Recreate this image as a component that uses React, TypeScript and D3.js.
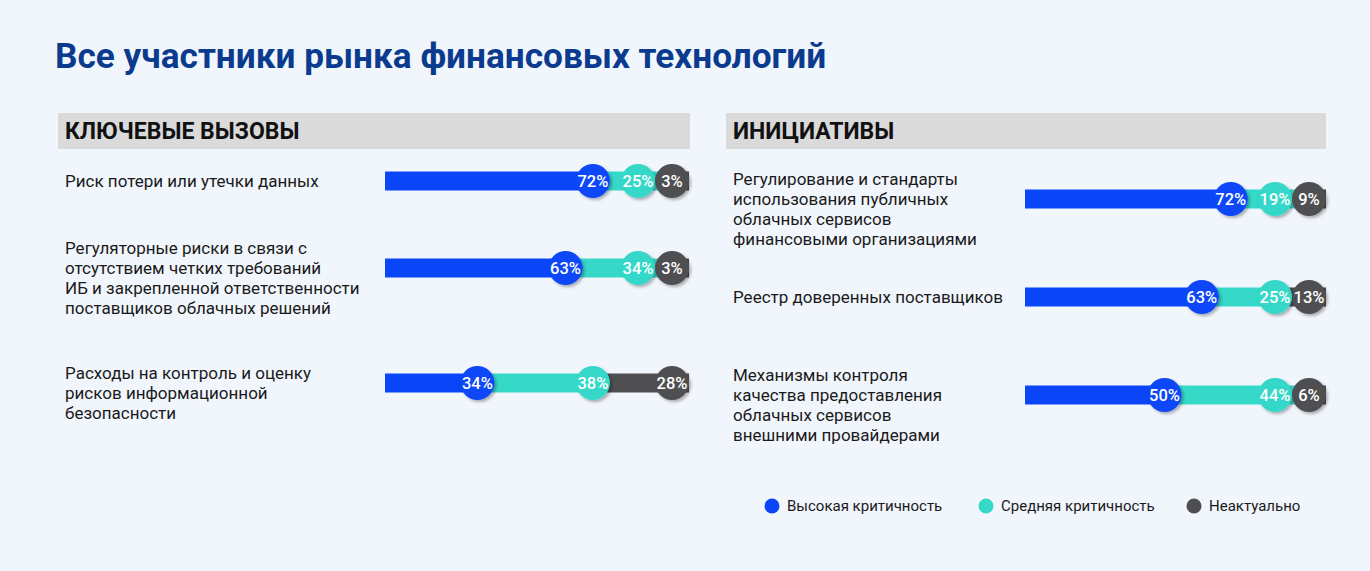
import React, { useEffect, useRef } from "react";
import * as d3 from "d3";

// Left panel: key challenges
const challengeLabels = [
    ["Риск потери или утечки данных"],
    [
        "Регуляторные риски в связи с",
        "отсутствием четких требований",
        "ИБ и закрепленной ответственности",
        "поставщиков облачных решений",
    ],
    ["Расходы на контроль и оценку", "рисков информационной", "безопасности"],
];
const challengeHigh = [72, 63, 34];
const challengeMid = [25, 34, 38];
const challengeNone = [3, 3, 28];

// Right panel: initiatives
const initiativeLabels = [
    [
        "Регулирование и стандарты",
        "использования публичных",
        "облачных сервисов",
        "финансовыми организациями",
    ],
    ["Реестр доверенных поставщиков"],
    [
        "Механизмы контроля",
        "качества предоставления",
        "облачных сервисов",
        "внешними провайдерами",
    ],
];
const initiativeHigh = [72, 63, 50];
const initiativeMid = [19, 25, 44];
const initiativeNone = [9, 13, 6];

const seriesNames = ["Высокая критичность", "Средняя критичность", "Неактуально"];
const seriesColors = ["#0a46f7", "#36d8c8", "#4f4f51"];

const W = 1370;
const H = 571;
const FONT = "Roboto, 'Noto Sans', sans-serif";

interface Panel {
    title: string;
    labels: string[][];
    values: number[][];
    x: number;
    width: number;
    barX: number;
    barW: number;
    rowY: number[];
}

const App: React.FC = () => {
    const svgRef = useRef<SVGSVGElement>(null);

    useEffect(() => {
        if (!svgRef.current) return;
        const svg = d3.select(svgRef.current);
        svg.selectAll("*").remove();

        const defs = svg.append("defs");
        const filter = defs
            .append("filter")
            .attr("id", "shadow")
            .attr("x", "-50%")
            .attr("y", "-50%")
            .attr("width", "200%")
            .attr("height", "200%");
        filter
            .append("feDropShadow")
            .attr("dx", 2)
            .attr("dy", 2)
            .attr("stdDeviation", 1.8)
            .attr("flood-color", "#000")
            .attr("flood-opacity", 0.3);

        svg.append("rect").attr("width", W).attr("height", H).attr("fill", "#f1f6fd");

        svg.append("text")
            .attr("x", 55)
            .attr("y", 68)
            .attr("font-family", FONT)
            .attr("font-size", 35.2)
            .attr("font-weight", 700)
            .attr("fill", "#0b3b8e")
            .text("Все участники рынка финансовых технологий");

        const panels: Panel[] = [
            {
                title: "КЛЮЧЕВЫЕ ВЫЗОВЫ",
                labels: challengeLabels,
                values: challengeHigh.map((v, i) => [v, challengeMid[i], challengeNone[i]]),
                x: 58,
                width: 632,
                barX: 385,
                barW: 304,
                rowY: [181, 268, 383],
            },
            {
                title: "ИНИЦИАТИВЫ",
                labels: initiativeLabels,
                values: initiativeHigh.map((v, i) => [v, initiativeMid[i], initiativeNone[i]]),
                x: 726,
                width: 600,
                barX: 1025,
                barW: 301,
                rowY: [199, 297, 395],
            },
        ];

        const r = 17;
        const barH = 19;
        const lineH = 20;

        panels.forEach((p) => {
            const g = svg.append("g");

            g.append("rect")
                .attr("x", p.x)
                .attr("y", 113)
                .attr("width", p.width)
                .attr("height", 36)
                .attr("fill", "#dadada");

            g.append("text")
                .attr("x", p.x + 7)
                .attr("y", 139)
                .attr("font-family", FONT)
                .attr("font-size", 23)
                .attr("font-weight", 700)
                .attr("fill", "#111")
                .text(p.title);

            p.values.forEach((row, i) => {
                const cy = p.rowY[i];
                const lines = p.labels[i];
                const offset = lines.length > 1 ? 10 : 0;
                const firstY = cy + offset - ((lines.length - 1) * lineH) / 2;

                const label = g
                    .append("text")
                    .attr("font-family", FONT)
                    .attr("font-size", 17)
                    .attr("fill", "#1a1a1a");
                lines.forEach((ln, j) => {
                    label
                        .append("tspan")
                        .attr("x", p.x + 7)
                        .attr("y", firstY + j * lineH)
                        .attr("dy", "0.35em")
                        .text(ln);
                });

                const xScale = d3
                    .scaleLinear()
                    .domain([0, d3.sum(row)])
                    .range([p.barX, p.barX + p.barW]);

                const ends = d3.cumsum(row);
                const starts = ends.map((e, k) => e - row[k]);

                g.selectAll(null)
                    .data(row)
                    .enter()
                    .append("rect")
                    .attr("x", (_, k) => xScale(starts[k]))
                    .attr("y", cy - barH / 2)
                    .attr("width", (_, k) => xScale(ends[k]) - xScale(starts[k]))
                    .attr("height", barH)
                    .attr("fill", (_, k) => seriesColors[k]);

                // circle centres: near segment end, pushed left to avoid overlap
                const cx = ends.map((e) => xScale(e) - 11);
                cx[cx.length - 1] = xScale(ends[ends.length - 1]) - r;
                for (let k = cx.length - 2; k >= 0; k--) {
                    cx[k] = Math.min(cx[k], cx[k + 1] - 2 * r);
                }

                const bubbles = g
                    .selectAll(null)
                    .data(row)
                    .enter()
                    .append("g")
                    .attr("transform", (_, k) => `translate(${cx[k]},${cy})`);

                bubbles
                    .append("circle")
                    .attr("r", r)
                    .attr("fill", (_, k) => seriesColors[k])
                    .attr("filter", "url(#shadow)");

                bubbles
                    .append("text")
                    .attr("text-anchor", "middle")
                    .attr("dy", "0.36em")
                    .attr("font-family", FONT)
                    .attr("font-size", 16.5)
                    .attr("font-weight", 500)
                    .attr("fill", "#fff")
                    .text((d) => `${d}%`);
            });
        });

        // Legend
        const legendX = [772, 986, 1194];
        const legend = svg
            .append("g")
            .selectAll(null)
            .data(seriesNames)
            .enter()
            .append("g")
            .attr("transform", (_, i) => `translate(${legendX[i]},506)`);

        legend
            .append("circle")
            .attr("r", 7.5)
            .attr("fill", (_, i) => seriesColors[i]);

        legend
            .append("text")
            .attr("x", 15)
            .attr("dy", "0.35em")
            .attr("font-family", FONT)
            .attr("font-size", 15)
            .attr("fill", "#1a1a1a")
            .text((d) => d);
    }, []);

    return (
        <svg
            ref={svgRef}
            width={W}
            height={H}
            style={{ position: "absolute", left: 0, top: 0 }}
        />
    );
};

export default App;
